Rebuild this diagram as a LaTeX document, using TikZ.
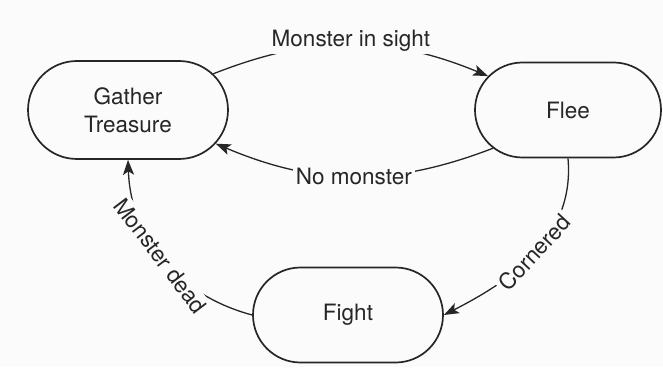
\documentclass[tikz,border=0pt]{standalone}
\usepackage{fontspec}
\setmainfont{TeX Gyre Heros}
\usetikzlibrary{shapes.misc,arrows.meta}
\definecolor{tinta}{gray}{0.15}
\definecolor{papel}{gray}{0.985}
\begin{document}
\begin{tikzpicture}[x=1pt,y=1pt,inner sep=0mm,>={Stealth[length=15pt,width=11pt,inset=3.5pt]}]
\tikzstyle{estado}=[rounded rectangle,draw=tinta,line width=1.7pt,text=tinta,align=center,font=\fontsize{22.5}{28}\selectfont]
\tikzstyle{cond}=[fill=papel,text=tinta,inner sep=3pt,font=\fontsize{22.5}{26}\selectfont]
\tikzstyle{trans}=[->,draw=tinta,line width=1.3pt]
\fill[papel] (0,0) rectangle (663,367);
\useasboundingbox (0,0) rectangle (663,367);
\node at (128,257) (gather)[estado,minimum width=200pt,minimum height=98pt] {Gather\\Treasure};
\node at (568,257) (flee)[estado,minimum width=186pt,minimum height=95pt] {Flee};
\node at (348,52) (fight)[estado,minimum width=190pt,minimum height=95pt] {Fight};
%% transiciones entre estados
\draw [trans] (gather.23) to [bend left = 22] node[cond,yshift=4pt] {Monster in sight} (flee.157);
\draw [trans] (flee.207) to [bend left = 22] node[cond] {No monster} (gather.-21);
\draw [trans] (flee.south) to [out=-85,in=27] node[cond,sloped] {Cornered} (fight.east);
\draw [trans] (fight.west) to [out=165,in=-88] node[cond,sloped,pos=0.52] {Monster dead} (gather.south);
\end{tikzpicture}
\end{document}
